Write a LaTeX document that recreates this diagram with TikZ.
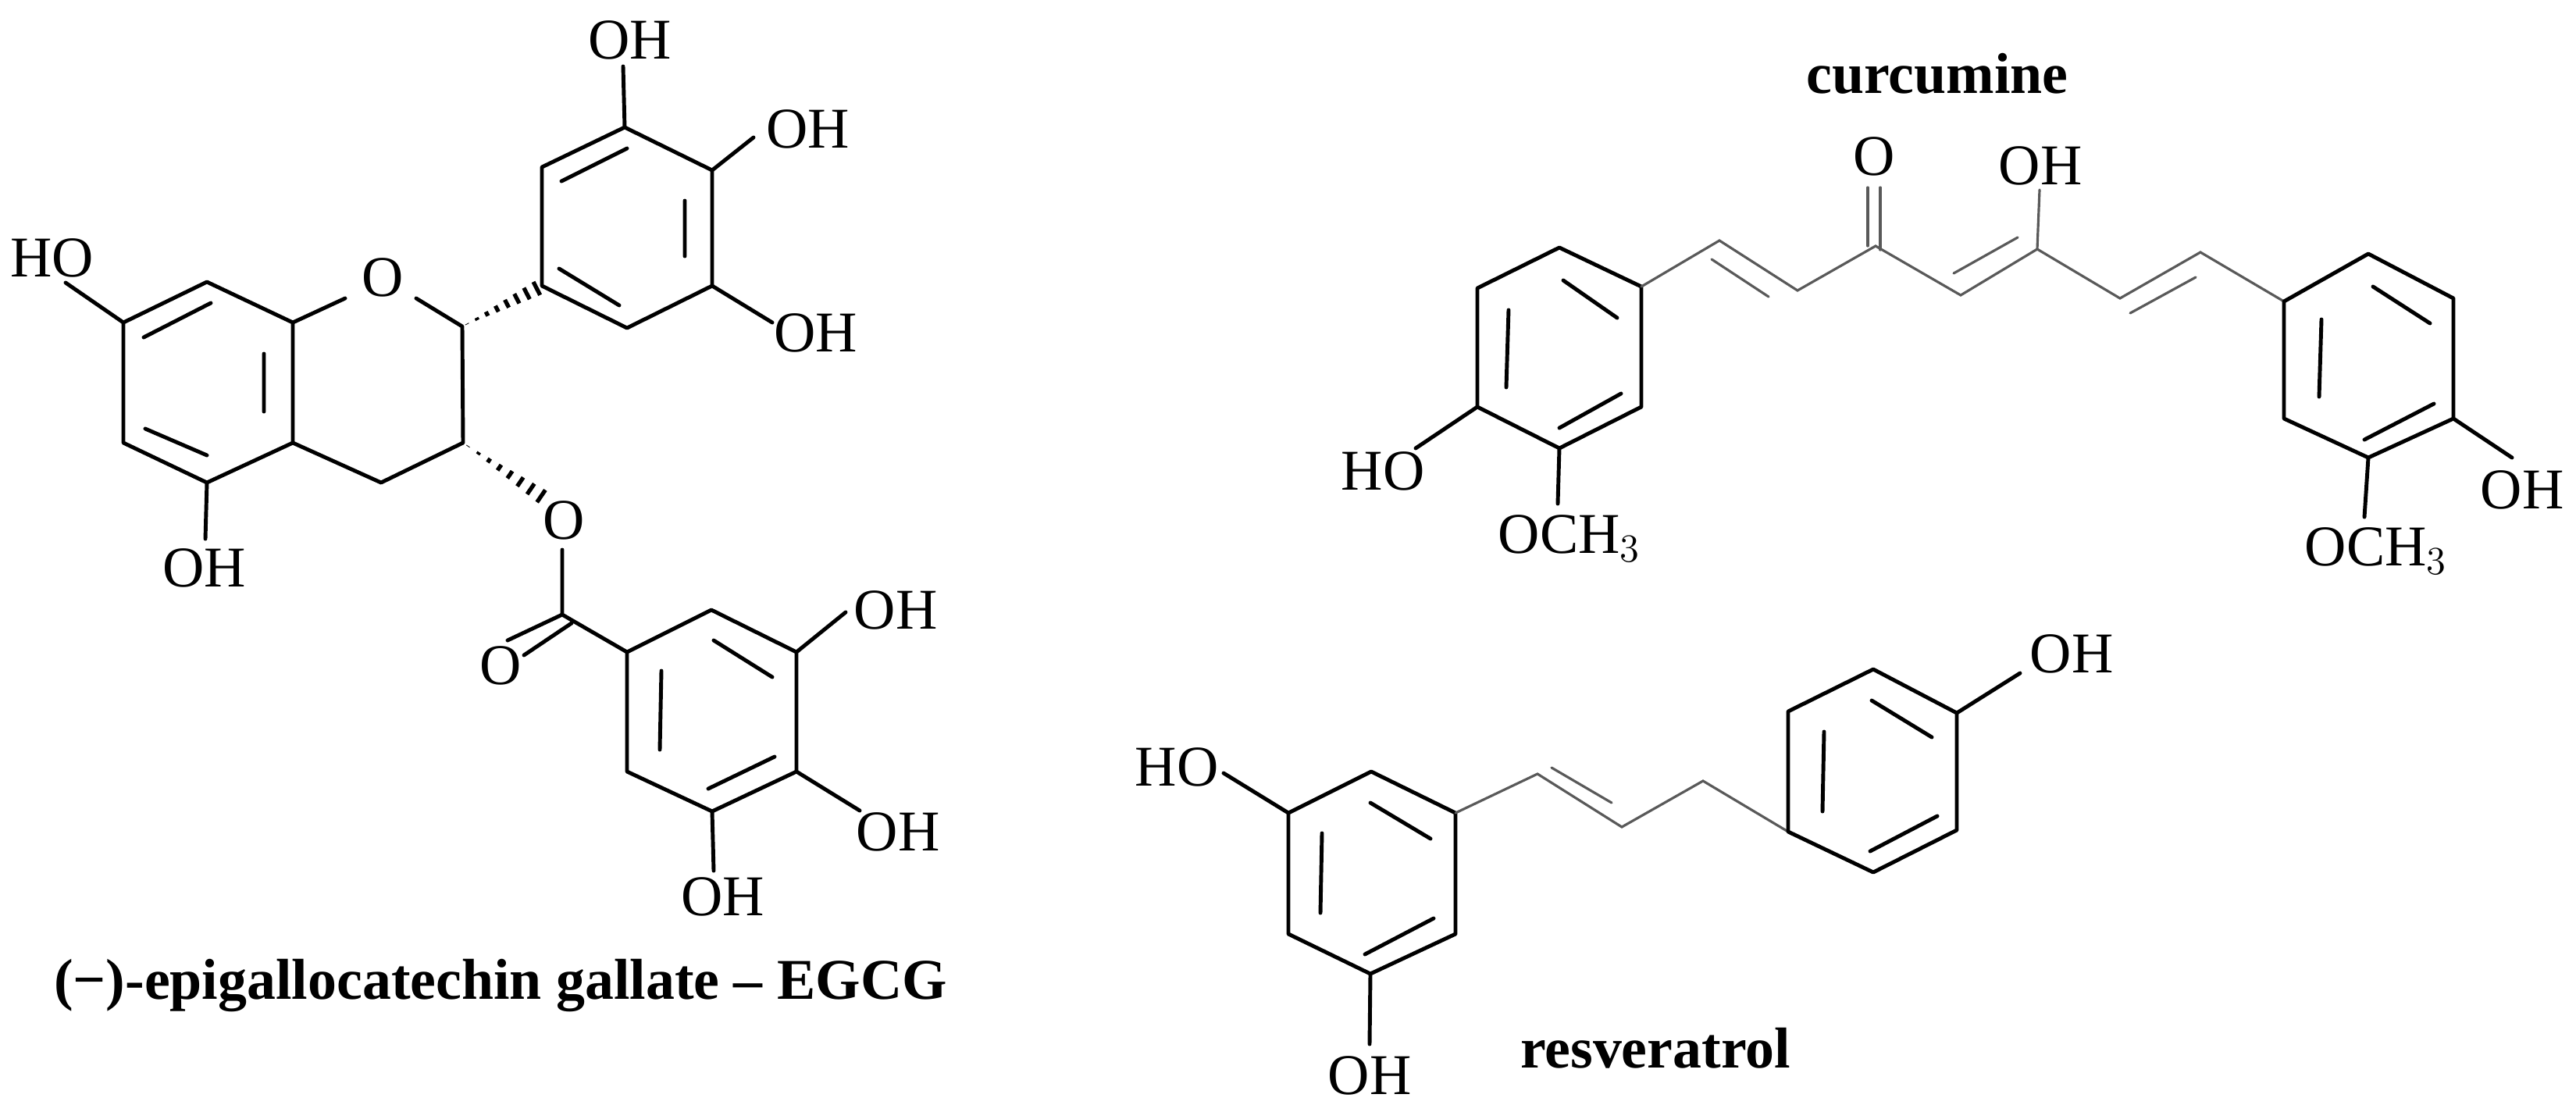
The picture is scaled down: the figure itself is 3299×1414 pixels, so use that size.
\documentclass[tikz,border=0pt]{standalone}
\usepackage{fontspec}
\setmainfont{Liberation Serif}
\usetikzlibrary{calc}
\tikzset{
  bond/.style={line width=1.4pt,line cap=round,line join=round},
  chain/.style={line width=0.9pt,draw=black!65,line cap=round},
  atom/.style={font=\fontsize{21}{21}\selectfont,inner sep=0pt},
  title/.style={font=\fontsize{21}{21}\selectfont\bfseries,inner sep=0pt}
}
\newcommand{\hashbond}[2]{%
  \foreach \i in {0,...,7}{%
    \pgfmathsetmacro{\t}{0.06+\i*0.125}%
    \pgfmathsetmacro{\w}{0.04+\i*0.13}%
    \draw[line width=1.5pt] ($($(#1)!\t!(#2)$)!\w mm!90:(#2)$) -- ($($(#1)!\t!(#2)$)!\w mm!-90:(#2)$);
  }}
\begin{document}
\begin{tikzpicture}[x=0.01cm,y=-0.01cm]
\useasboundingbox (0,0) rectangle (3299,1414);
% ===== EGCG =====
\coordinate (a1) at (265,361); \coordinate (a2) at (375,413); \coordinate (a3) at (375,567);
\coordinate (a4) at (265,618); \coordinate (a5) at (158,567); \coordinate (a6) at (158,413);
\draw[bond] (a1)--(a2)--(a3)--(a4)--(a5)--(a6)--cycle;
\draw[bond] (184,432)--(270,388) (338,453)--(338,527) (186,549)--(265,583);
\node[atom] (ho1) at (67,330) {HO};
\draw[bond] (a6)--(84,362);
\node[atom] (oh1) at (262,727) {OH};
\draw[bond] (a4)--(263,690);
\node[atom] (oring) at (490,355) {O};
\coordinate (c2) at (592,418); \coordinate (c3) at (593,567); \coordinate (c4) at (488,618);
\draw[bond] (a2)--(442,382);
\draw[bond] (533,382)--(c2)--(c3)--(c4)--(a3);
% B ring
\coordinate (b1) at (800,163); \coordinate (b2) at (912,218); \coordinate (b3) at (912,366);
\coordinate (b4) at (803,420); \coordinate (b5) at (694,366); \coordinate (b6) at (694,214);
\draw[bond] (b1)--(b2)--(b3)--(b4)--(b5)--(b6)--cycle;
\draw[bond] (719,232)--(803,190) (877,257)--(877,328) (716,344)--(793,391);
\hashbond{c2}{b5}
\node[atom] (oh2) at (807,51) {OH};
\draw[bond] (b1)--(798,85);
\node[atom] (oh3) at (1035,165) {OH};
\draw[bond] (b2)--(965,176);
\node[atom] (oh4) at (1045,426) {OH};
\draw[bond] (b3)--(989,413);
% ester
\node[atom] (oest) at (722,666) {O};
\coordinate (oe) at (700,640);
\hashbond{c3}{oe}
\coordinate (cc) at (720,787);
\draw[bond] (720,704)--(cc)--(803,835);
\draw[bond] (cc)--(650,820) (732,798)--(671,839);
\node[atom] (ocarb) at (641,852) {O};
% gallate ring
\coordinate (g1) at (803,835); \coordinate (g2) at (911,781); \coordinate (g3) at (1020,835);
\coordinate (g4) at (1020,988); \coordinate (g5) at (912,1039); \coordinate (g6) at (803,988);
\draw[bond] (g1)--(g2)--(g3)--(g4)--(g5)--(g6)--cycle;
\draw[bond] (914,820)--(989,867) (847,859)--(845,960) (907,1010)--(992,969);
\node[atom] (oh5) at (1147,781) {OH};
\draw[bond] (g3)--(1083,784);
\node[atom] (oh6) at (1150,1065) {OH};
\draw[bond] (g4)--(1101,1038);
\node[atom] (oh7) at (926,1148) {OH};
\draw[bond] (g5)--(914,1115);
\node[title] (egcg) at (641,1262) {(−)-epigallocatechin gallate – EGCG};
% ===== curcumine =====
\node[title] (curt) at (2481,94) {curcumine};
\coordinate (l1) at (1997,317); \coordinate (l2) at (2102,367); \coordinate (l3) at (2102,521);
\coordinate (l4) at (1997,574); \coordinate (l5) at (1892,521); \coordinate (l6) at (1892,369);
\draw[bond] (l1)--(l2)--(l3)--(l4)--(l5)--(l6)--cycle;
\draw[bond] (2002,359)--(2071,407) (1932,397)--(1929,496) (1997,548)--(2076,504);
\draw[bond] (l5)--(1813,574);
\node[atom] (cho) at (1771,603) {HO};
\draw[bond] (l4)--(1995,645);
\node[atom] (cme1) at (2010,690) {OCH$_3$};
\coordinate (p1) at (2202,308); \coordinate (p2) at (2302,372); \coordinate (p3) at (2402,315);
\coordinate (p4) at (2511,378); \coordinate (p5) at (2609,319); \coordinate (p6) at (2715,382);
\coordinate (p7) at (2818,323);
\coordinate (r1) at (3033,325); \coordinate (r2) at (3142,382); \coordinate (r3) at (3142,536);
\coordinate (r4) at (3033,586); \coordinate (r5) at (2925,536); \coordinate (r6) at (2925,386);
\draw[chain] (l2)--(p1)--(p2)--(p3)--(p4)--(p5)--(p6)--(p7)--(r6);
\draw[chain] (2192,332)--(2265,380) (2502,350)--(2584,304) (2728,401)--(2812,355);
\draw[chain] (2392,315)--(2392,240) (2408,320)--(2408,240);
\node[atom] (co) at (2400,200) {O};
\draw[chain] (p5)--(2612,243);
\node[atom] (coh) at (2613,212) {OH};
\draw[bond] (r1)--(r2)--(r3)--(r4)--(r5)--(r6)--cycle;
\draw[bond] (3039,367)--(3112,414) (2973,409)--(2970,508) (3028,563)--(3117,517);
\draw[bond] (r3)--(3217,586);
\node[atom] (coh2) at (3230,627) {OH};
\draw[bond] (r4)--(3028,662);
\node[atom] (cme2) at (3043,706) {OCH$_3$};
% ===== resveratrol =====
\coordinate (s1) at (1756,988); \coordinate (s2) at (1864,1041); \coordinate (s3) at (1864,1196);
\coordinate (s4) at (1755,1247); \coordinate (s5) at (1650,1196); \coordinate (s6) at (1650,1041);
\draw[bond] (s1)--(s2)--(s3)--(s4)--(s5)--(s6)--cycle;
\draw[bond] (1755,1028)--(1832,1074) (1693,1067)--(1691,1169) (1748,1222)--(1836,1176);
\draw[bond] (s6)--(1567,990);
\node[atom] (rho) at (1507,982) {HO};
\draw[bond] (s4)--(1754,1337);
\node[atom] (roh) at (1754,1377) {OH};
\coordinate (q1) at (1969,991); \coordinate (q2) at (2077,1059); \coordinate (q3) at (2181,1000);
\coordinate (t1) at (2399,857); \coordinate (t2) at (2506,913); \coordinate (t3) at (2506,1063);
\coordinate (t4) at (2399,1117); \coordinate (t5) at (2290,1065); \coordinate (t6) at (2290,911);
\draw[chain] (s2)--(q1)--(q2)--(q3)--(t5);
\draw[chain] (1987,983)--(2064,1028);
\draw[bond] (t1)--(t2)--(t3)--(t4)--(t5)--(t6)--cycle;
\draw[bond] (2397,897)--(2474,944) (2336,937)--(2334,1039) (2395,1090)--(2481,1045);
\draw[bond] (t2)--(2587,862);
\node[atom] (roh2) at (2653,837) {OH};
\node[title] (rest) at (2120,1342) {resveratrol};
\end{tikzpicture}
\end{document}
